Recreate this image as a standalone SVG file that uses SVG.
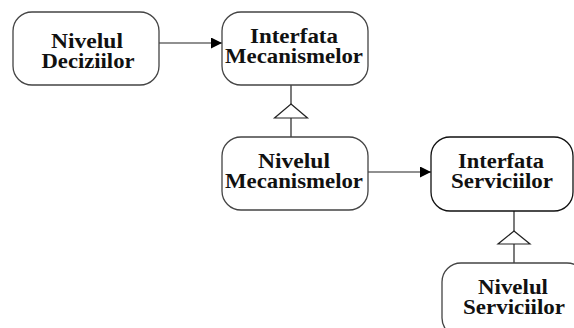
<svg xmlns="http://www.w3.org/2000/svg" width="574" height="328" viewBox="0 0 574 328">
<style>
.box{fill:#fff;stroke:#444;stroke-width:1.3}
.t{font-family:"Liberation Serif","Times New Roman",serif;font-weight:bold;font-size:20px;fill:#111;text-anchor:middle}
.ln{stroke:#222;stroke-width:1.2;fill:none}
.tri{fill:#fff;stroke:#222;stroke-width:1.2}
</style>
<defs>
<marker id="ah" markerWidth="11" markerHeight="11" refX="11" refY="5.5" orient="auto" markerUnits="userSpaceOnUse">
<path d="M0,0 L11,5.5 L0,11 Z" fill="#000"/>
</marker>
</defs>
<rect width="574" height="328" fill="#fff"/>
<g id="connectors">
<line class="ln" x1="159" y1="43" x2="222" y2="43" marker-end="url(#ah)"/>
<line class="ln" x1="368" y1="172" x2="431" y2="172" marker-end="url(#ah)"/>
<line class="ln" x1="291" y1="85" x2="291" y2="104"/>
<line class="ln" x1="291" y1="118" x2="291" y2="137"/>
<polygon class="tri" points="291,104 307.5,118 274.5,118"/>
<line class="ln" x1="514" y1="211" x2="514" y2="231"/>
<line class="ln" x1="514" y1="244" x2="514" y2="263"/>
<polygon class="tri" points="514,231 530,244 498,244"/>
</g>
<g id="nivelul-deciziilor">
<rect class="box" x="13" y="12" width="146" height="73" rx="19"/>
<text class="t" x="87" y="48" textLength="72" lengthAdjust="spacingAndGlyphs">Nivelul</text>
<text class="t" x="88" y="68" textLength="93" lengthAdjust="spacingAndGlyphs">Deciziilor</text>
</g>
<g id="interfata-mecanismelor">
<rect class="box" x="222" y="12" width="146" height="73" rx="19"/>
<text class="t" x="294" y="43" textLength="88" lengthAdjust="spacingAndGlyphs">Interfata</text>
<text class="t" x="294" y="63" textLength="138" lengthAdjust="spacingAndGlyphs">Mecanismelor</text>
</g>
<g id="nivelul-mecanismelor">
<rect class="box" x="222" y="137" width="146" height="73" rx="19"/>
<text class="t" x="294" y="168" textLength="72" lengthAdjust="spacingAndGlyphs">Nivelul</text>
<text class="t" x="294" y="188" textLength="138" lengthAdjust="spacingAndGlyphs">Mecanismelor</text>
</g>
<g id="interfata-serviciilor">
<rect class="box" x="431" y="137" width="142" height="74" rx="19" style="stroke:#111"/>
<text class="t" x="501" y="168" textLength="86" lengthAdjust="spacingAndGlyphs">Interfata</text>
<text class="t" x="502" y="188" textLength="102" lengthAdjust="spacingAndGlyphs">Serviciilor</text>
</g>
<g id="nivelul-serviciilor">
<rect class="box" x="442" y="263" width="144" height="74" rx="19"/>
<text class="t" x="513" y="294" textLength="70" lengthAdjust="spacingAndGlyphs">Nivelul</text>
<text class="t" x="514" y="314" textLength="102" lengthAdjust="spacingAndGlyphs">Serviciilor</text>
</g>
</svg>
